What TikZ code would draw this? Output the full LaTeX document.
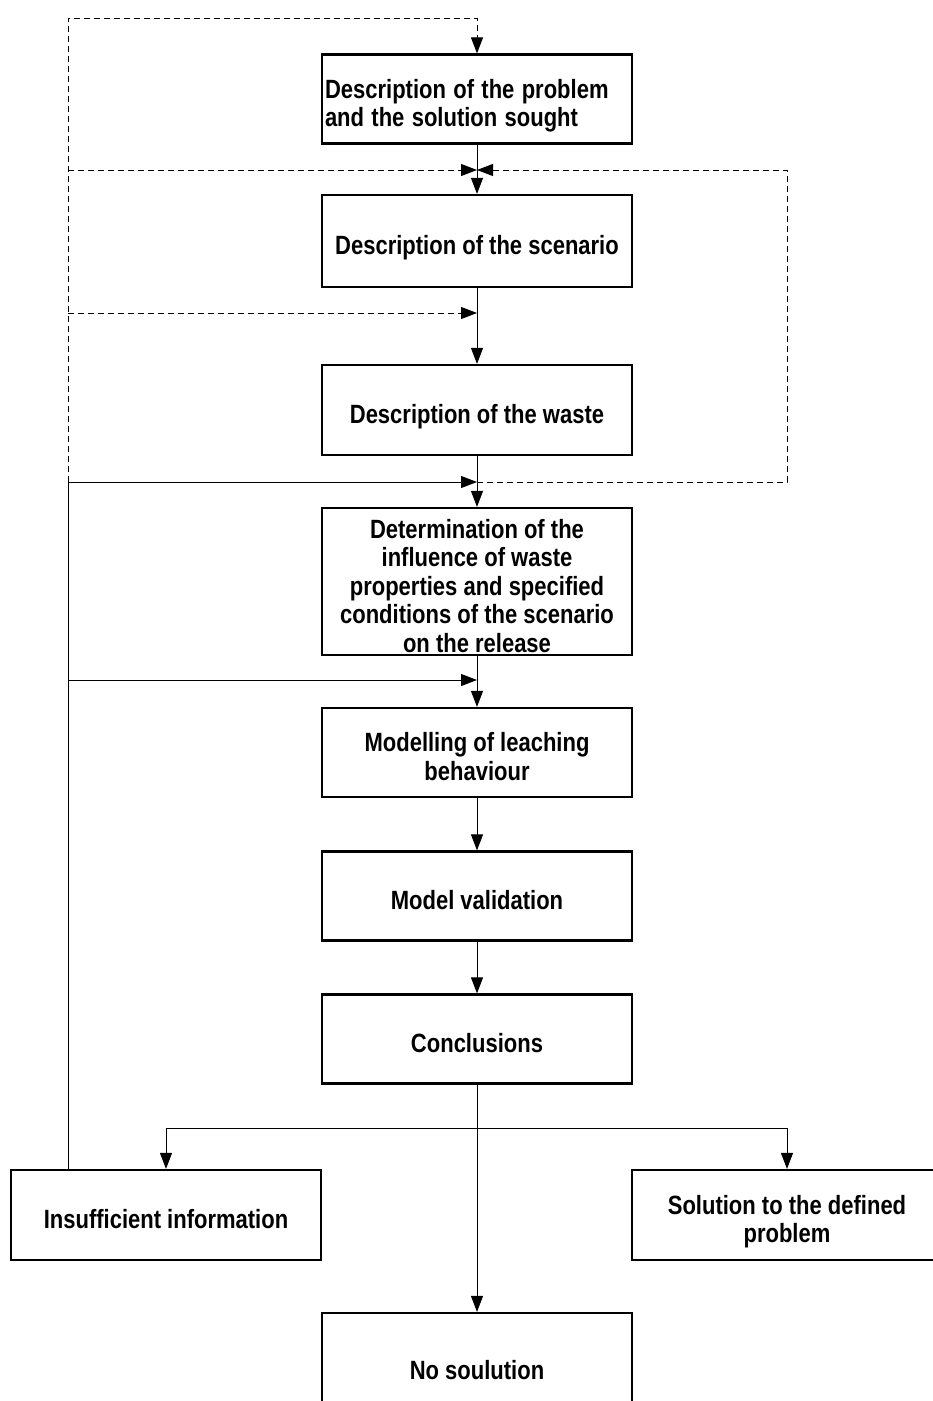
\documentclass[tikz,border=0pt]{standalone}
\usepackage{fontspec}
\setmainfont{Liberation Sans}
\usepackage{graphicx}
\usepackage{tikz}
\usetikzlibrary{positioning, arrows.meta}
% narrow, tall lettering of the boxes
\newcommand{\boxlines}[2][c]{\raisebox{-8pt}[\height][\depth]{\scalebox{1}[1.2]{\begin{tabular}{@{}#1@{}}#2\end{tabular}}}}
\tikzset{
  stepbox/.style={draw, line width=2.2pt, minimum width=310pt, minimum height=89pt,
    inner xsep=3pt, inner ysep=0pt, align=center, font=\bfseries\fontsize{22}{23.75}\selectfont},
  flowarrow/.style={line width=0.9pt, -{Triangle[length=16pt,width=12pt]}},
  plainline/.style={line width=0.9pt},
  dashback/.style={flowarrow, dash pattern=on 6pt off 4pt},
}

\begin{document}
\begin{tikzpicture}[x=1pt, y=-1pt]
  \useasboundingbox (0,0) rectangle (933,1401);
  % main chain of steps
  \node[stepbox, text width=304pt, align=left] (problem) at (477,99) {\boxlines[l]{Description of the problem\\and the solution sought}};
  \node[stepbox, minimum height=92pt] (scenario) at (477,241) {\boxlines{Description of the scenario}};
  \node[stepbox, minimum height=90pt] (waste) at (477,410) {\boxlines{Description of the waste}};
  \node[stepbox, minimum height=147pt] (influence) at (477,581.5) {\boxlines{Determination of the\\influence of waste\\properties and specified\\conditions of the scenario\\on the release}};
  \node[stepbox] (modelling) at (477,752.5) {\boxlines{Modelling of leaching\\behaviour}};
  \node[stepbox] (validation) at (477,896) {\boxlines{Model validation}};
  \node[stepbox] (conclusions) at (477,1039) {\boxlines{Conclusions}};
  % outcomes
  \node[stepbox, minimum height=90pt] (insufficient) at (166,1215) {\boxlines{Insufficient information}};
  \node[stepbox, minimum height=90pt] (solution) at (787,1215) {\boxlines{Solution to the defined\\problem}};
  \node[stepbox, minimum height=106pt] (nosolution) at (477,1366) {\boxlines{No soulution}};

  % junction points
  \coordinate (topleft) at (68,18);
  \coordinate (topright) at (477,18);
  \coordinate (jscen) at (477,170);
  \coordinate (jwaste) at (477,313);
  \coordinate (jinfl) at (477,482);
  \coordinate (jmod) at (477,680);
  \coordinate (rightcol) at (787,170);
  \coordinate (split) at (477,1128);

  % forward flow
  \draw[flowarrow] (problem) -- (scenario);
  \draw[flowarrow] (scenario) -- (waste);
  \draw[flowarrow] (waste) -- (influence);
  \draw[flowarrow] (influence) -- (modelling);
  \draw[flowarrow] (modelling) -- (validation);
  \draw[flowarrow] (validation) -- (conclusions);
  \draw[flowarrow] (conclusions) -- (nosolution);
  \draw[flowarrow] (split) -| (insufficient);
  \draw[flowarrow] (split) -| (solution);

  % feedback from insufficient information
  \draw[plainline] (insufficient.north -| topleft) -- (jinfl -| topleft);
  \draw[flowarrow] (jinfl -| topleft) -- (jinfl);
  \draw[flowarrow] (jmod -| topleft) -- (jmod);
  \draw[dashback] (jinfl -| topleft) -- (topleft) -- (topright) -- (problem);
  \draw[dashback] (jscen -| topleft) -- (jscen);
  \draw[dashback] (jwaste -| topleft) -- (jwaste);
  \draw[dashback] (jinfl) -- (jinfl -| rightcol) -- (rightcol) -- (jscen);
\end{tikzpicture}
\end{document}
